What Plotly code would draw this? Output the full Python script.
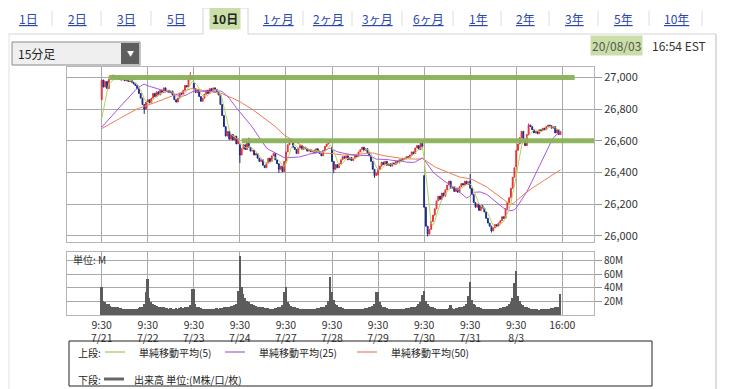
import plotly.graph_objects as go

# ---------------- data ----------------
tabs = ["1日", "2日", "3日", "5日", "10日", "1ヶ月", "2ヶ月", "3ヶ月", "6ヶ月", "1年", "2年", "3年", "5年", "10年"]
selected_tab = "10日"
days = ["7/21", "7/22", "7/23", "7/24", "7/27", "7/28", "7/29", "7/30", "7/31", "8/3"]
bars_per_day = 26
price_ticks = [26000, 26200, 26400, 26600, 26800, 27000]
volume_ticks = [20, 40, 60, 80]
marker_levels = [27000, 26600]
marker_start = [4, 79]
marker_end = [267, 281]

# closes of the 49 bars before the window (seed the moving averages)
prev_closes = [26650, 26660, 26655, 26670, 26665, 26680, 26675, 26690, 26685, 26670,
               26660, 26665, 26650, 26645, 26655, 26660, 26670, 26680, 26675, 26685,
               26690, 26680, 26670, 26665, 26660, 26650, 26655, 26660, 26670, 26675,
               26680, 26690, 26685, 26675, 26670, 26665, 26660, 26670, 26680, 26685,
               26690, 26680, 26675, 26670, 26665, 26675, 26680, 26685, 26680]

closes_by_day = [
    [26985, 26940, 26975, 26930, 26990, 27000, 27015, 27005, 26995, 27010, 26990, 26985, 26995,
     26980, 26990, 26975, 26985, 26970, 26960, 26950, 26930, 26900, 26870, 26830, 26800, 26845],
    [26860, 26840, 26870, 26900, 26880, 26910, 26890, 26920, 26905, 26935, 26910, 26920, 26905,
     26915, 26890, 26860, 26845, 26870, 26900, 26895, 26920, 26950, 26940, 26985, 27010, 26995],
    [26930, 26905, 26925, 26880, 26850, 26870, 26895, 26920, 26900, 26930, 26915, 26935, 26925,
     26910, 26890, 26830, 26760, 26690, 26630, 26660, 26610, 26640, 26605, 26630, 26580, 26615],
    [26510, 26550, 26575, 26545, 26590, 26560, 26535, 26540, 26510, 26520, 26490, 26470, 26480,
     26445, 26430, 26460, 26490, 26470, 26505, 26520, 26480, 26455, 26420, 26440, 26405, 26470],
    [26530, 26575, 26610, 26590, 26560, 26545, 26520, 26555, 26570, 26545, 26560, 26550, 26535,
     26545, 26530, 26540, 26525, 26550, 26535, 26520, 26505, 26540, 26565, 26580, 26600, 26590],
    [26470, 26420, 26450, 26430, 26455, 26480, 26500, 26490, 26505, 26480, 26495, 26475, 26490,
     26510, 26500, 26530, 26545, 26560, 26540, 26550, 26525, 26505, 26470, 26420, 26380, 26395],
    [26420, 26440, 26465, 26450, 26470, 26445, 26455, 26440, 26460, 26450, 26470, 26460, 26480,
     26475, 26490, 26485, 26500, 26495, 26510, 26530, 26520, 26555, 26570, 26545, 26585, 26560],
    [26180, 26060, 26010, 26040, 26090, 26130, 26170, 26220, 26250, 26230, 26270, 26250, 26290,
     26320, 26345, 26300, 26310, 26280, 26300, 26275, 26310, 26330, 26320, 26345, 26325, 26340],
    [26300, 26260, 26210, 26180, 26200, 26160, 26190, 26175, 26150, 26110, 26080, 26060, 26030,
     26050, 26070, 26060, 26080, 26095, 26120, 26110, 26170, 26210, 26240, 26300, 26370, 26430],
    [26540, 26580, 26620, 26660, 26610, 26570, 26640, 26700, 26690, 26670, 26650, 26660, 26645,
     26670, 26665, 26680, 26670, 26690, 26700, 26695, 26680, 26690, 26650, 26670, 26640, 26660],
]
day_opens = [26860, 26845, 26965, 26575, 26470, 26560, 26385, 26380, 26345, 26435]
wick_high = {50: 27035, 83: 26620, 208: 26390, 241: 26710, 180: 26590}
wick_low = {24: 26770, 78: 26460, 100: 26398, 131: 26395, 154: 26366, 184: 25995, 220: 26020}

volumes_by_day = [
    [41, 20, 18, 16, 15, 13, 12, 12, 11, 11, 10, 10, 9, 9, 9, 8, 8, 8, 8, 9, 9, 10, 11, 12, 15, 34],
    [53, 25, 18, 15, 14, 13, 12, 11, 12, 11, 10, 10, 9, 10, 9, 9, 10, 9, 10, 11, 10, 11, 12, 12, 14, 38],
    [37, 15, 12, 11, 10, 9, 9, 8, 9, 8, 8, 9, 9, 10, 9, 10, 10, 11, 11, 12, 12, 13, 13, 14, 16, 35],
    [86, 40, 30, 25, 20, 18, 16, 15, 14, 13, 12, 12, 11, 11, 10, 10, 10, 9, 9, 9, 10, 10, 11, 12, 14, 34],
    [41, 18, 15, 13, 12, 11, 10, 10, 9, 9, 9, 8, 8, 8, 8, 9, 9, 9, 10, 10, 11, 11, 12, 14, 20, 56],
    [34, 22, 16, 14, 12, 11, 10, 9, 9, 9, 8, 8, 8, 8, 8, 8, 9, 9, 9, 10, 10, 11, 12, 13, 16, 34],
    [34, 18, 14, 12, 11, 10, 9, 9, 9, 8, 8, 8, 8, 9, 9, 9, 10, 10, 10, 11, 12, 12, 13, 15, 18, 29],
    [35, 20, 15, 13, 12, 11, 10, 9, 9, 9, 8, 8, 9, 9, 10, 14, 10, 9, 10, 10, 11, 11, 12, 13, 16, 28],
    [48, 22, 16, 14, 12, 11, 10, 9, 9, 9, 8, 8, 8, 8, 9, 9, 9, 10, 10, 11, 12, 13, 15, 18, 25, 46],
    [64, 28, 20, 16, 14, 12, 11, 10, 9, 9, 8, 8, 8, 7, 8, 9, 8, 9, 9, 9, 10, 10, 11, 11, 12, 30],
]

# ---------------- build series ----------------
closes = [c for d in closes_by_day for c in d]
volumes = [v for d in volumes_by_day for v in d]
n = len(closes)
idx = list(range(n))
opens = []
for i in range(n):
    if i % bars_per_day == 0:
        opens.append(day_opens[i // bars_per_day])
    else:
        opens.append(closes[i - 1])
highs = [max(wick_high.get(i, 0), opens[i], closes[i]) for i in range(n)]
lows = [min(wick_low.get(i, 10 ** 9), opens[i], closes[i]) for i in range(n)]

series = prev_closes + closes
off = len(prev_closes)


def sma(k):
    return [sum(series[off + i - k + 1: off + i + 1]) / k for i in range(n)]


sma5, sma25, sma50 = sma(5), sma(25), sma(50)

FONT = "Noto Sans CJK JP, Noto Sans, sans-serif"
PAGE = 8                      # browser body margin
W, H = 731 - PAGE, 389 - PAGE
L, R, T, B = 67, 594, 67, 315   # plot-area box in window pixels


def px(x):
    return (x - L) / (R - L)


def py(y):
    return (B - y) / (B - T)


fig = go.Figure()
fig.add_trace(go.Candlestick(
    x=idx, open=opens, high=highs, low=lows, close=closes,
    increasing=dict(line=dict(color="#e8323a", width=1), fillcolor="#e8323a"),
    decreasing=dict(line=dict(color="#1c2a8c", width=1), fillcolor="#1c2a8c"),
    xaxis="x", yaxis="y", showlegend=False, hoverinfo="skip"))
fig.add_trace(go.Scatter(x=idx, y=sma50, mode="lines", line=dict(color="#f07a55", width=1),
                         xaxis="x", yaxis="y", showlegend=False))
fig.add_trace(go.Scatter(x=idx, y=sma25, mode="lines", line=dict(color="#a457e0", width=1),
                         xaxis="x", yaxis="y", showlegend=False))
fig.add_trace(go.Scatter(x=idx, y=sma5, mode="lines", line=dict(color="#b2d45e", width=1),
                         xaxis="x", yaxis="y", showlegend=False))
fig.add_trace(go.Bar(x=idx, y=volumes, marker=dict(color="#5c5c5c", line=dict(width=0)),
                     xaxis="x2", yaxis="y2", showlegend=False))

tickvals = [d * bars_per_day for d in range(len(days) + 1)]
ticktext = ["9:30<br>" + d for d in days] + ["16:00"]
xr = [-19.6, 277.9]

grid = "#a9a9a9"
frame = "#b5b5b5"
tf = dict(family=FONT, size=11, color="#333")
tfv = dict(family=FONT, size=10, color="#333")
tfx = dict(family=FONT, size=10.5, color="#333")

fig.update_layout(
    width=W, height=H,
    margin=dict(l=L - PAGE, r=W - (R - PAGE), t=T - PAGE, b=H - (B - PAGE)),
    paper_bgcolor="white", plot_bgcolor="white", bargap=0,
    font=dict(family=FONT),
    xaxis=dict(domain=[0, 1], anchor="y", range=xr, tickvals=tickvals, showticklabels=False,
               ticks="", showgrid=True, gridcolor=grid, gridwidth=1, zeroline=False, automargin=False,
               showline=True, mirror=True, linecolor=frame, rangeslider=dict(visible=False)),
    yaxis=dict(domain=[(B - 241.7) / (B - T), 1], anchor="x", side="right", range=[25962, 27067],
               tickvals=price_ticks, tickformat=",", ticks="outside", ticklen=7, tickcolor="#999",
               tickfont=tf, showgrid=True, gridcolor=grid, zeroline=False, automargin=False,
               showline=True, mirror=True, linecolor=frame),
    xaxis2=dict(domain=[0, 1], anchor="y2", range=xr, tickvals=tickvals, ticktext=ticktext,
                ticks="", tickfont=tfx, showgrid=True, gridcolor=grid, zeroline=False, automargin=False,
                showline=True, mirror=True, linecolor=frame),
    yaxis2=dict(domain=[0, (B - 252.3) / (B - T)], anchor="x2", side="right", range=[0, 92],
                tickvals=volume_ticks, ticktext=[f"{v}M" for v in volume_ticks],
                ticks="outside", ticklen=7, tickcolor="#999", tickfont=tfv, automargin=False,
                showgrid=True, gridcolor=grid, zeroline=False,
                showline=True, mirror=True, linecolor=frame),
)

shapes = []
ann = []


def text(x, y, s, size=12, color="#222", xanchor="center", **kw):
    ann.append(dict(x=px(x), y=py(y), xref="paper", yref="paper", text=s, showarrow=False,
                    xanchor=xanchor, yanchor="middle",
                    font=dict(family=FONT, size=size, color=color), **kw))


def pline(x0, y0, x1, y1, color, width=1):
    shapes.append(dict(type="line", xref="paper", yref="paper", x0=px(x0), x1=px(x1),
                       y0=py(y0), y1=py(y1), line=dict(color=color, width=width)))


# green highlighter lines
for lv, s, e in zip(marker_levels, marker_start, marker_end):
    shapes.append(dict(type="line", xref="x", yref="y", x0=s, x1=e, y0=lv, y1=lv,
                       line=dict(color="#8cb35a", width=5), opacity=0.95))

# outer chrome
pline(726, 9, 726, 400, "#cfcfcf")
pline(9, 3, 726, 3, "#cfcfcf")
pline(9, 34, 9, 400, "#e2e2e2")
pline(716, 34, 716, 400, "#dcdcdc", 2)
# tab row bottom, broken at selected tab
pline(9, 34, 203, 34, "#d5d5d5")
pline(248, 34, 716, 34, "#d5d5d5")
shapes.append(dict(type="path", xref="paper", yref="paper",
                   path=f"M {px(203)} {py(34)} L {px(203)} {py(8)} L {px(248)} {py(8)} L {px(248)} {py(34)}",
                   line=dict(color="#d5d5d5", width=1)))

tab_x = [28, 77, 126, 176, 225, 278, 328, 377, 428, 478, 525, 574, 623, 676]
sep_x = [52, 101, 151, 303, 352, 402, 453, 501, 549, 598, 649, 702]
for sx in sep_x:
    pline(sx, 11, sx, 26, "#dddddd")
for t, tx in zip(tabs, tab_x):
    if t == selected_tab:
        text(tx, 19, "<b>" + t + "</b>", 12, "#222", bgcolor="#cadfa8", borderpad=2)
    else:
        text(tx, 19, "<u>" + t + "</u>", 12, "#2a48b0")

# dropdown
shapes.append(dict(type="rect", xref="paper", yref="paper", x0=px(12), x1=px(140), y0=py(42), y1=py(65),
                   line=dict(color="#8a8a8a", width=1), fillcolor="#efefef"))
shapes.append(dict(type="rect", xref="paper", yref="paper", x0=px(121), x1=px(139), y0=py(43), y1=py(64),
                   line=dict(width=0), fillcolor="#5e5e5e"))
text(130, 53, "▼", 7, "white")
text(16, 54, "15分足", 12, "#222", xanchor="left")

# timestamp
text(708, 46, "16:54 EST", 12, "#333", xanchor="right")
text(643, 46, "20/08/03", 12, "#555", xanchor="right", bgcolor="#cadfa8", borderpad=1)

# volume unit label
text(71, 259, "単位: M", 10, "#333", xanchor="left")

# legend box
shapes.append(dict(type="rect", xref="paper", yref="paper", x0=px(69), x1=px(652), y0=py(341), y1=py(386),
                   line=dict(color="#222", width=1)))
legend_items = [("単純移動平均(5)", "#c6dd98", 105, 137),
                ("単純移動平均(25)", "#c2a3e4", 225, 257),
                ("単純移動平均(50)", "#efb3a3", 357, 389)]
text(76, 352, "上段:", 10, "#222", xanchor="left")
for label, col, lx, txx in legend_items:
    pline(lx, 352, lx + 20, 352, col, 2)
    text(txx, 352, label, 10, "#222", xanchor="left")
text(76, 379, "下段:", 10, "#222", xanchor="left")
pline(104, 379, 124, 379, "#666", 3)
text(132, 379, "出来高 単位:(M株/口/枚)", 10, "#222", xanchor="left")

fig.update_layout(shapes=shapes, annotations=ann)
fig.write_html("out.html")
